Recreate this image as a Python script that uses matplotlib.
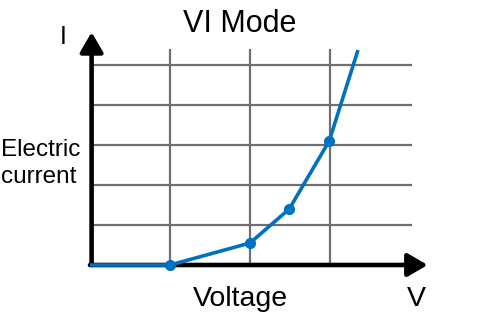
import matplotlib
matplotlib.use("Agg")
import matplotlib.pyplot as plt

plt.rcParams['font.family'] = ['Liberation Sans', 'DejaVu Sans']

# VI curve (voltage in grid units, current in grid units)
voltage = [0, 1, 2, 2.49, 2.99, 3.35]
current = [0, 0, 0.55, 1.4, 3.1, 5.375]
marked = [1, 2, 3, 4]

v_grid = [1, 2, 3]
i_grid = [1, 2, 3, 4, 5]

blue = '#0070C0'
grey = '#6f6f6f'

W, H = 480, 320
fig = plt.figure(figsize=(W / 100, H / 100), dpi=100)

# axes box in pixels: left 90, right 430, bottom 265, top 30
x0, x1, y0, y1 = 90, 430, 265, 30
ax = fig.add_axes([x0 / W, 1 - y0 / H, (x1 - x0) / W, (y0 - y1) / H])
ax.set_xlim(0, (x1 - x0) / 80)
ax.set_ylim(0, (y0 - y1) / 40)
ax.axis('off')

ax.vlines(v_grid, 0, 5.4, colors=grey, lw=1.6, zorder=1)
ax.hlines(i_grid, 0, 4.025, colors=grey, lw=1.6, zorder=1)

ax.plot(voltage, current, color=blue, lw=2.6, marker='o', ms=7,
        markevery=marked, zorder=3, solid_capstyle='butt', clip_on=False)

arrow = dict(arrowstyle='-|>,head_length=12,head_width=7', lw=3.3,
             color='black', mutation_scale=1, shrinkA=0, shrinkB=0)
ax.annotate('', xy=(0.02, 5.82), xytext=(0.02, 0), arrowprops=arrow,
            annotation_clip=False, zorder=2)
ax.annotate('', xy=(4.22, 0), xytext=(0, 0), arrowprops=arrow,
            annotation_clip=False, zorder=2)

fig.text(240 / W, 1 - 24 / H, 'VI Mode', ha='center', va='center', fontsize=22)
fig.text(63 / W, 1 - 44 / H, 'I', ha='center', va='baseline', fontsize=18)
fig.text(1 / W, 1 - 156 / H, 'Electric', ha='left', va='baseline', fontsize=17.5)
fig.text(1 / W, 1 - 183 / H, 'current', ha='left', va='baseline', fontsize=17.5)
fig.text(240 / W, 1 - 306 / H, 'Voltage', ha='center', va='baseline', fontsize=20.5)
fig.text(416 / W, 1 - 306 / H, 'V', ha='center', va='baseline', fontsize=20.5)

fig.savefig('out.png', dpi=100)
